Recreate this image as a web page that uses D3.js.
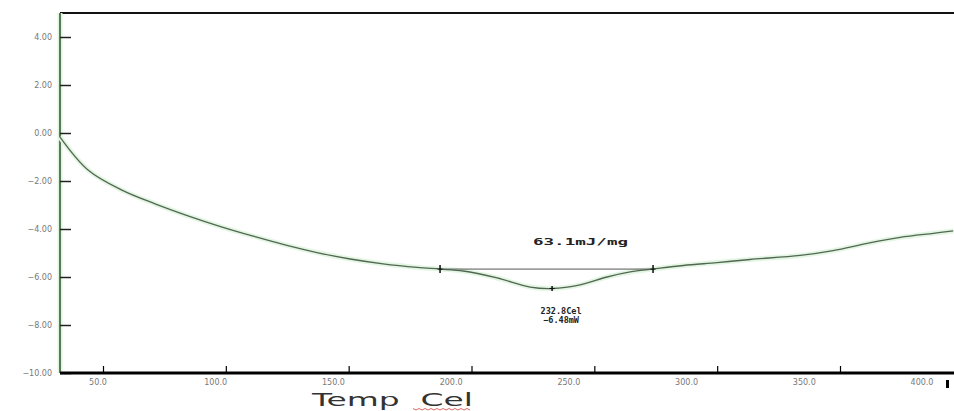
<!DOCTYPE html>
<html>
<head>
<meta charset="utf-8">
<script src="https://cdn.jsdelivr.net/npm/d3@7"></script>
<style>
  body { margin: 0; background: #fff; }
  svg { display: block; }
</style>
</head>
<body>
<svg></svg>
<script>
// температура (Cel) и тепловой поток (mW)
const temps = [32.5, 43.9, 57.7, 71.2, 84.6, 98.5, 111.9, 123.3, 137.1, 150.6, 164.0, 177.9,
  187.2, 196.6, 210.4, 223.9, 232.8, 244.2, 255.2, 264.6, 273.9, 286.2, 300.0, 313.4,
  333.8, 347.2, 361.1, 374.5, 388.0, 396.1];
const heatFlow = [-0.17, -1.54, -2.38, -2.95, -3.45, -3.92, -4.32, -4.64, -4.98, -5.25, -5.45, -5.60,
  -5.67, -5.75, -6.04, -6.42, -6.48, -6.33, -6.00, -5.79, -5.67, -5.52, -5.40, -5.27,
  -5.10, -4.90, -4.60, -4.35, -4.18, -4.08];

const xTicks = [50, 100, 150, 200, 250, 300, 350, 400];
const yTicks = [-10, -8, -6, -4, -2, 0, 2, 4];

// пик и базовая линия
const peakTemp = 232.8;
const peakValue = -6.48;
const baseStart = 187.2;
const baseEnd = 273.9;
const baseValue = -5.67;
const enthalpyText = "63.1mJ/mg";

const width = 954;
const height = 411;
const plotLeft = 60;
const plotTop = 13;
const plotBottom = 373;

let svg = d3.select("svg")
  .attr("width", width)
  .attr("height", height);

// шкалы
let x = d3.scaleLinear().domain([50, 350]).range([103, 840]);
let xLabel = d3.scaleLinear().domain([50, 400]).range([98, 922]); // подписи сдвинуты, как в оригинале
let y = d3.scaleLinear().domain([-10, 5]).range([plotBottom, plotTop]);

// верхняя рамка
svg.append("line")
  .attr("x1", plotLeft).attr("x2", width)
  .attr("y1", plotTop).attr("y2", plotTop)
  .attr("stroke", "#111").attr("stroke-width", 2);

// ось Y
svg.append("line")
  .attr("x1", plotLeft).attr("x2", plotLeft)
  .attr("y1", plotTop).attr("y2", plotBottom)
  .attr("stroke", "#ddf6dd").attr("stroke-width", 5);
svg.append("line")
  .attr("x1", plotLeft).attr("x2", plotLeft)
  .attr("y1", plotTop).attr("y2", plotBottom)
  .attr("stroke", "#3a5a3a").attr("stroke-width", 1.6);

svg.append("g")
  .attr("transform", `translate(${plotLeft},0)`)
  .call(d3.axisRight(y).tickValues(yTicks).tickSize(11).tickFormat(""))
  .call(g => g.select(".domain").remove())
  .call(g => g.selectAll(".tick line").attr("stroke", "#222").attr("stroke-width", 1.5));

svg.append("g")
  .attr("transform", `translate(${plotLeft - 8},0)`)
  .call(d3.axisLeft(y).tickValues(yTicks).tickSize(0).tickPadding(0).tickFormat(d3.format(".2f")))
  .call(g => g.select(".domain").remove())
  .call(g => g.selectAll("text")
    .attr("fill", "#777")
    .style("font-family", "DejaVu Sans")
    .style("font-size", "8px"));

// ось X
svg.append("line")
  .attr("x1", plotLeft).attr("x2", width)
  .attr("y1", plotBottom).attr("y2", plotBottom)
  .attr("stroke", "#000").attr("stroke-width", 3);

svg.append("g")
  .attr("transform", `translate(0,${plotBottom})`)
  .call(d3.axisBottom(x).tickValues(xTicks.filter(d => x(d) < width)).tickSize(-7).tickFormat(""))
  .call(g => g.select(".domain").remove())
  .call(g => g.selectAll(".tick line").attr("stroke", "#000").attr("stroke-width", 1.2));

svg.append("g")
  .selectAll("text")
  .data(xTicks)
  .enter()
  .append("text")
  .attr("x", d => xLabel(d))
  .attr("y", plotBottom + 12)
  .attr("text-anchor", "middle")
  .attr("fill", "#777")
  .style("font-family", "DejaVu Sans")
  .style("font-size", "8px")
  .text(d => d3.format(".1f")(d));

// маркер у правого края
svg.append("rect")
  .attr("x", 946).attr("y", 380)
  .attr("width", 3).attr("height", 8)
  .attr("fill", "#000");

// подпись оси X
svg.append("text")
  .attr("x", 312)
  .attr("y", 406)
  .attr("fill", "#333")
  .style("font-family", "DejaVu Sans")
  .style("font-size", "18px")
  .attr("xml:space", "preserve")
  .attr("textLength", 161)
  .attr("lengthAdjust", "spacingAndGlyphs")
  .text("Temp  Cel");

// волнистое подчёркивание (проверка орфографии)
let wave = d3.range(0, 20).map(i => [413 + i * 3, 408.5 + (i % 2 ? 1.5 : 0)]);
svg.append("path")
  .attr("d", d3.line()(wave))
  .attr("fill", "none")
  .attr("stroke", "#d04040")
  .attr("stroke-width", 0.8);

// кривая ДСК
const points = temps.map((t, i) => [t, heatFlow[i]]);
let line = d3.line()
  .x(d => x(d[0]))
  .y(d => y(d[1]))
  .curve(d3.curveCatmullRom);

svg.append("path")
  .attr("d", line(points))
  .attr("fill", "none")
  .attr("stroke", "#e3f6e3")
  .attr("stroke-width", 5);

svg.append("path")
  .attr("d", line(points))
  .attr("fill", "none")
  .attr("stroke", "#526652")
  .attr("stroke-width", 1.3);

// базовая линия пика
svg.append("line")
  .attr("x1", x(baseStart)).attr("x2", x(baseEnd))
  .attr("y1", y(baseValue)).attr("y2", y(baseValue))
  .attr("stroke", "#555").attr("stroke-width", 1);

// маркеры "+"
const marks = [[baseStart, baseValue], [baseEnd, baseValue], [peakTemp, peakValue]];
marks.forEach(function(m, i) {
  let cx = x(m[0]), cy = y(m[1]);
  let s = i < 2 ? 4 : 2.5;
  svg.append("line")
    .attr("x1", cx).attr("x2", cx).attr("y1", cy - s).attr("y2", cy + s)
    .attr("stroke", "#111").attr("stroke-width", 1.5);
  svg.append("line")
    .attr("x1", cx - 2.5).attr("x2", cx + 2.5).attr("y1", cy).attr("y2", cy)
    .attr("stroke", "#111").attr("stroke-width", 1);
});

// подписи пика
const annoFont = "DejaVu Sans Mono";
svg.append("text")
  .attr("x", 533).attr("y", 245)
  .attr("fill", "#222")
  .style("font-family", annoFont)
  .style("font-weight", "bold")
  .style("font-size", "9.5px")
  .attr("textLength", 95)
  .attr("lengthAdjust", "spacingAndGlyphs")
  .text(enthalpyText);

svg.append("text")
  .attr("x", x(peakTemp) + 9).attr("y", 314)
  .attr("text-anchor", "middle")
  .attr("fill", "#222")
  .style("font-family", annoFont)
  .style("font-weight", "bold")
  .style("font-size", "8.5px")
  .text(d3.format(".1f")(peakTemp) + "Cel");

svg.append("text")
  .attr("x", x(peakTemp) + 9).attr("y", 323)
  .attr("text-anchor", "middle")
  .attr("fill", "#222")
  .style("font-family", annoFont)
  .style("font-weight", "bold")
  .style("font-size", "8.5px")
  .text(d3.format(".2f")(peakValue) + "mW");
</script>
</body>
</html>
